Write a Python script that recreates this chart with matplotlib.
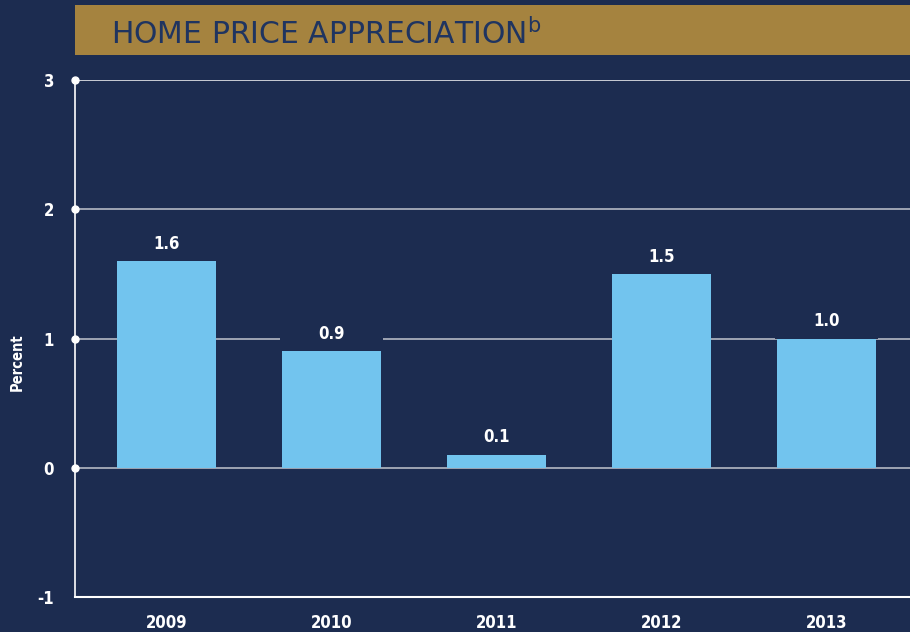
import numpy as np
import matplotlib.pyplot as plt
from matplotlib.patches import Rectangle

years = ["2009", "2010", "2011", "2012", "2013"]
values = [1.6, 0.9, 0.1, 1.5, 1.0]
labels = ["1.6", "0.9", "0.1", "1.5", "1.0"]
yticks = [-1, 0, 1, 2, 3]

bg = "#1c2c50"
bar_color = "#72c4ee"
gold = "#a5833f"
navy_text = "#1f3460"
cond = dict(family="DejaVu Sans", stretch="condensed", fontweight="bold")

fig = plt.figure(figsize=(9.1, 6.32), dpi=100)
fig.patch.set_facecolor(bg)

# title banner
fig.patches.append(Rectangle((75 / 910, 1 - 55 / 632), 1 - 75 / 910, 50 / 632,
                             transform=fig.transFigure, facecolor=gold,
                             edgecolor="none", zorder=1))
fig.text(111 / 910, 1 - 34 / 632, r"HOME PRICE APPRECIATION$^{\mathregular{b}}$",
         fontsize=21.5, color=navy_text, family="DejaVu Sans", va="center",
         ha="left", zorder=2)

ax = fig.add_axes([75 / 910, 35 / 632, 1 - 75 / 910, 517 / 632])
ax.patch.set_alpha(0)
x = np.arange(len(years))
ax.set_xlim(-0.555, 4.506)
ax.set_ylim(-1, 3)

for t in [0, 1, 2, 3]:
    ax.axhline(t, color="#b4b9c4" if t < 3 else "#e6e8ec", lw=1.2, zorder=1)
ax.plot([-0.555] * 4, [0, 1, 2, 3], "o", color="white", ms=5, clip_on=False, zorder=5)

# label backgrounds hide the gridline behind value labels
ax.bar(x, 0.25, bottom=values, width=0.62, color=bg, zorder=2)
ax.bar(x, values, width=0.6, color=bar_color, zorder=3)
for xi, v, lab in zip(x, values, labels):
    ax.annotate(lab, (xi, v), xytext=(0, 6), textcoords="offset points",
                ha="center", va="bottom", color="white", fontsize=12, zorder=4, **cond)

for s in ["top", "right"]:
    ax.spines[s].set_visible(False)
ax.spines["left"].set_color("white")
ax.spines["bottom"].set_color("white")
ax.spines["left"].set_linewidth(1.2)
ax.spines["bottom"].set_linewidth(1.5)

ax.set_yticks(yticks)
ax.set_yticklabels([str(t) for t in yticks], color="white", fontsize=12, **cond)
ax.set_xticks(x)
ax.set_xticklabels(years, color="white", fontsize=12, **cond)
ax.tick_params(length=0)
ax.tick_params(axis="y", pad=15)
ax.tick_params(axis="x", pad=12)
fig.text(17 / 910, 1 - 362 / 632, "Percent", rotation=90, color="white",
         fontsize=10.5, ha="center", va="center", **cond)

plt.savefig("out.png", dpi=100, facecolor=fig.get_facecolor())
